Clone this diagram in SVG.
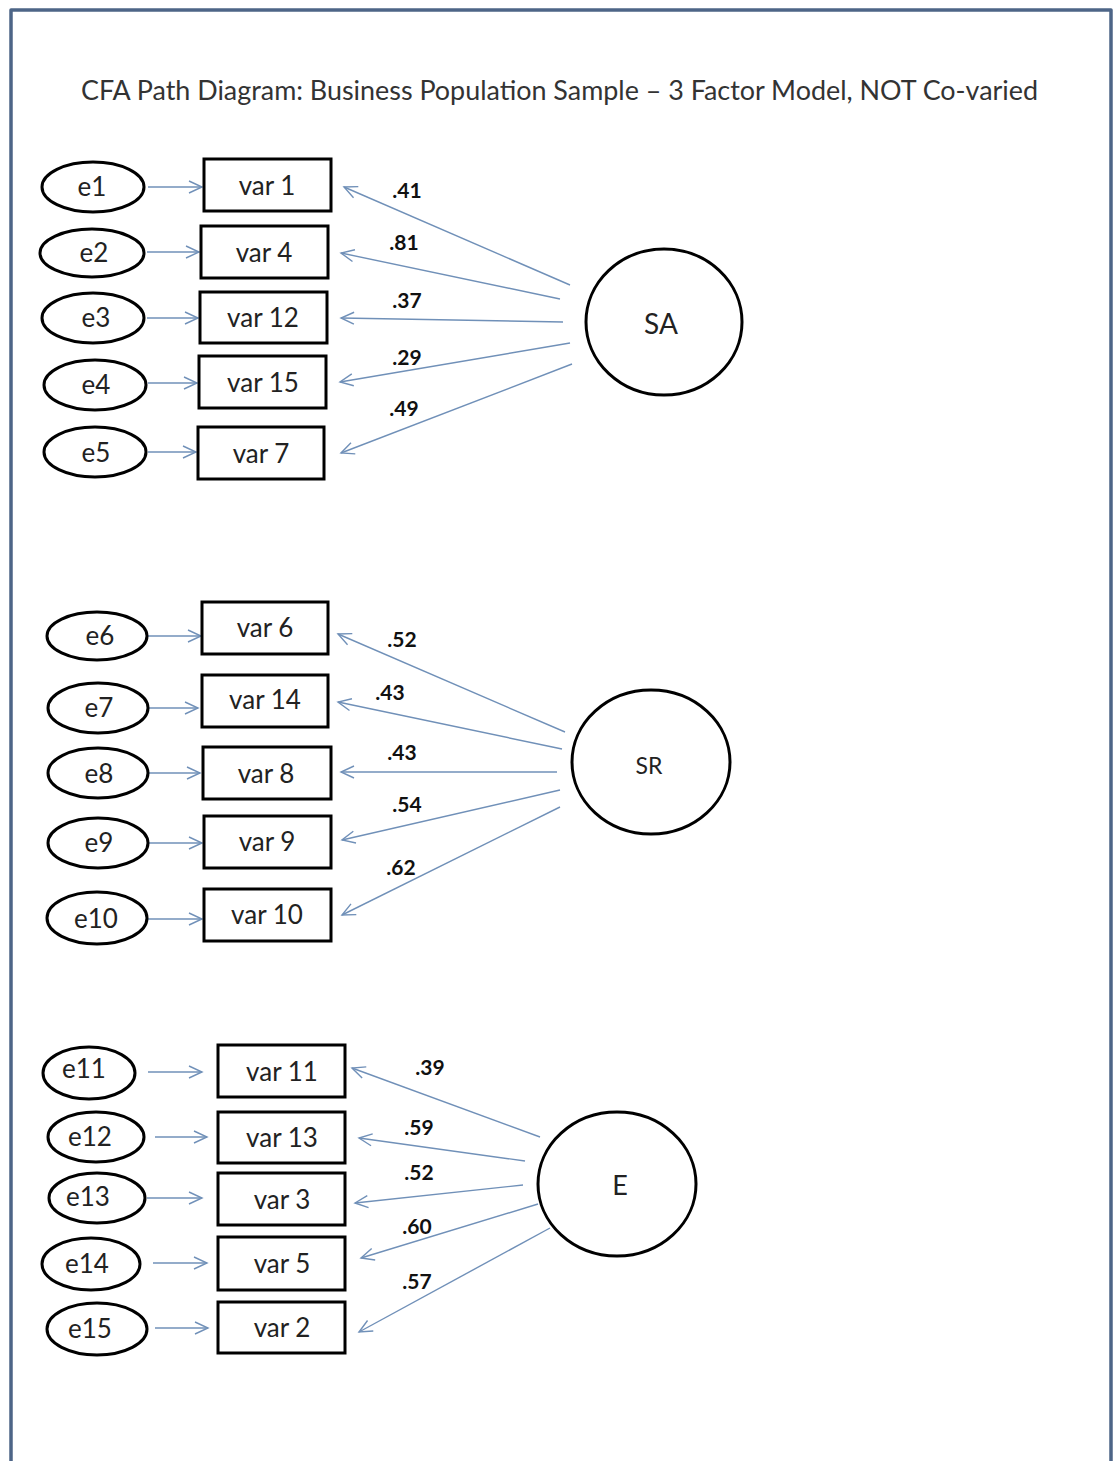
<svg xmlns="http://www.w3.org/2000/svg" width="1117" height="1461" viewBox="0 0 1117 1461">
<style>
  .frame{fill:none;stroke:#4d6587;stroke-width:3.5;stroke-linejoin:round}
  .box{fill:#fff;stroke:#000;stroke-width:3}
  .err{fill:#fff;stroke:#000;stroke-width:3}
  .lat{fill:#fff;stroke:#000;stroke-width:3}
  .t{font-family:Lato,"Liberation Sans",sans-serif;font-size:26px;fill:#222;text-anchor:middle}
  .lbl{font-family:Lato,"Liberation Sans",sans-serif;font-size:21px;font-weight:bold;fill:#111;text-anchor:middle}
  .title{font-family:Lato,"Liberation Sans",sans-serif;font-size:26px;fill:#333}
  .c line{stroke:#7090b8;stroke-width:1.4;marker-end:url(#ah)}
</style>
<defs>
  <marker id="ah" markerUnits="userSpaceOnUse" markerWidth="16" markerHeight="16" viewBox="-1 -8 16 16" refX="13" refY="0" orient="auto">
    <path d="M0,-6 L13,0 L0,6" fill="none" stroke="#7090b8" stroke-width="1.4"/>
  </marker>
</defs>
<rect x="0" y="0" width="1117" height="1461" fill="#fff"/>
<path class="frame" d="M11,1461 L11,10 L1111,10 L1111,1461"/>
<text class="title" x="81" y="100" textLength="957" lengthAdjust="spacingAndGlyphs">CFA Path Diagram: Business Population Sample – 3 Factor Model, NOT Co-varied</text>

<g id="connectors" class="c">
  <line x1="148" y1="187" x2="202" y2="187"/>
  <line x1="147" y1="252" x2="199" y2="252"/>
  <line x1="147" y1="318" x2="198" y2="318"/>
  <line x1="148" y1="383" x2="197" y2="383"/>
  <line x1="148" y1="452" x2="196" y2="452"/>
  <line x1="570" y1="285" x2="344" y2="187"/>
  <line x1="560" y1="299" x2="341" y2="253"/>
  <line x1="563" y1="322" x2="341" y2="318"/>
  <line x1="570" y1="343" x2="340" y2="382"/>
  <line x1="572" y1="364" x2="341" y2="453"/>

  <line x1="148" y1="636" x2="201" y2="636"/>
  <line x1="148" y1="708" x2="198" y2="708"/>
  <line x1="148" y1="773" x2="200" y2="773"/>
  <line x1="148" y1="843" x2="202" y2="843"/>
  <line x1="148" y1="919" x2="202" y2="919"/>
  <line x1="565" y1="732" x2="338" y2="634"/>
  <line x1="562" y1="749" x2="338" y2="702"/>
  <line x1="557" y1="772" x2="341" y2="772"/>
  <line x1="560" y1="790" x2="342" y2="840"/>
  <line x1="560" y1="807" x2="342" y2="915"/>

  <line x1="148" y1="1072" x2="202" y2="1072"/>
  <line x1="155" y1="1137" x2="207" y2="1137"/>
  <line x1="147" y1="1198" x2="202" y2="1198"/>
  <line x1="153" y1="1263" x2="207" y2="1263"/>
  <line x1="155" y1="1328" x2="208" y2="1328"/>
  <line x1="540" y1="1137" x2="352" y2="1068"/>
  <line x1="525" y1="1161" x2="359" y2="1138"/>
  <line x1="523" y1="1185" x2="355" y2="1203"/>
  <line x1="538" y1="1204" x2="361" y2="1258"/>
  <line x1="550" y1="1228" x2="359" y2="1332"/>
</g>

<g id="labels">
  <text class="lbl" x="407" y="198">.41</text>
  <text class="lbl" x="404" y="250">.81</text>
  <text class="lbl" x="407" y="308">.37</text>
  <text class="lbl" x="407" y="365">.29</text>
  <text class="lbl" x="404" y="416">.49</text>
  <text class="lbl" x="402" y="647">.52</text>
  <text class="lbl" x="390" y="700">.43</text>
  <text class="lbl" x="402" y="760">.43</text>
  <text class="lbl" x="407" y="812">.54</text>
  <text class="lbl" x="401" y="875">.62</text>
  <text class="lbl" x="430" y="1075">.39</text>
  <text class="lbl" x="419" y="1135">.59</text>
  <text class="lbl" x="419" y="1180">.52</text>
  <text class="lbl" x="417" y="1234">.60</text>
  <text class="lbl" x="417" y="1289">.57</text>
</g>

<g id="SA"><ellipse class="lat" cx="664" cy="322" rx="78" ry="73"/><text class="t" x="661" y="334" style="font-size:28px">SA</text></g>
<g id="SR"><ellipse class="lat" cx="651" cy="762" rx="79" ry="72"/><text class="t" x="649" y="774" style="font-size:23px">SR</text></g>
<g id="E"><ellipse class="lat" cx="617" cy="1184" rx="79" ry="72"/><text class="t" x="620" y="1195" style="font-size:27px">E</text></g>

<g id="e1"><ellipse class="err" cx="93" cy="187" rx="51" ry="25"/><text class="t" x="92" y="196">e1</text></g>
<g id="e2"><ellipse class="err" cx="92" cy="253" rx="52" ry="24"/><text class="t" x="94" y="262">e2</text></g>
<g id="e3"><ellipse class="err" cx="93" cy="318" rx="51" ry="25"/><text class="t" x="96" y="327">e3</text></g>
<g id="e4"><ellipse class="err" cx="95" cy="385" rx="51" ry="25"/><text class="t" x="96" y="394">e4</text></g>
<g id="e5"><ellipse class="err" cx="95" cy="452" rx="51" ry="25"/><text class="t" x="96" y="462">e5</text></g>

<g id="var1"><rect class="box" x="204" y="159" width="127" height="52"/><text class="t" x="267" y="195">var 1</text></g>
<g id="var4"><rect class="box" x="201" y="226" width="127" height="52"/><text class="t" x="264" y="262">var 4</text></g>
<g id="var12"><rect class="box" x="200" y="292" width="127" height="51"/><text class="t" x="263" y="327">var 12</text></g>
<g id="var15"><rect class="box" x="199" y="356" width="127" height="52"/><text class="t" x="263" y="392">var 15</text></g>
<g id="var7"><rect class="box" x="198" y="427" width="126" height="52"/><text class="t" x="261" y="463">var 7</text></g>

<g id="e6"><ellipse class="err" cx="97" cy="636" rx="50" ry="24"/><text class="t" x="100" y="645">e6</text></g>
<g id="e7"><ellipse class="err" cx="98" cy="708" rx="50" ry="25"/><text class="t" x="99" y="717">e7</text></g>
<g id="e8"><ellipse class="err" cx="98" cy="773" rx="50" ry="25"/><text class="t" x="99" y="783">e8</text></g>
<g id="e9"><ellipse class="err" cx="98" cy="843" rx="50" ry="25"/><text class="t" x="99" y="852">e9</text></g>
<g id="e10"><ellipse class="err" cx="97" cy="918" rx="50" ry="26"/><text class="t" x="96" y="928">e10</text></g>

<g id="var6"><rect class="box" x="202" y="602" width="126" height="52"/><text class="t" x="265" y="637">var 6</text></g>
<g id="var14"><rect class="box" x="202" y="675" width="126" height="52"/><text class="t" x="265" y="709">var 14</text></g>
<g id="var8"><rect class="box" x="203" y="747" width="128" height="52"/><text class="t" x="266" y="783">var 8</text></g>
<g id="var9"><rect class="box" x="204" y="816" width="127" height="52"/><text class="t" x="267" y="851">var 9</text></g>
<g id="var10"><rect class="box" x="204" y="889" width="127" height="52"/><text class="t" x="267" y="924">var 10</text></g>

<g id="e11"><ellipse class="err" cx="89" cy="1073" rx="46" ry="26"/><text class="t" x="84" y="1078">e11</text></g>
<g id="e12"><ellipse class="err" cx="96" cy="1137" rx="48" ry="25"/><text class="t" x="90" y="1146">e12</text></g>
<g id="e13"><ellipse class="err" cx="97" cy="1198" rx="48" ry="25"/><text class="t" x="88" y="1206">e13</text></g>
<g id="e14"><ellipse class="err" cx="91" cy="1264" rx="49" ry="26"/><text class="t" x="87" y="1273">e14</text></g>
<g id="e15"><ellipse class="err" cx="97" cy="1329" rx="50" ry="26"/><text class="t" x="90" y="1338">e15</text></g>

<g id="var11"><rect class="box" x="218" y="1045" width="127" height="52"/><text class="t" x="282" y="1081">var 11</text></g>
<g id="var13"><rect class="box" x="218" y="1112" width="127" height="51"/><text class="t" x="282" y="1147">var 13</text></g>
<g id="var3"><rect class="box" x="218" y="1173" width="127" height="52"/><text class="t" x="282" y="1209">var 3</text></g>
<g id="var5"><rect class="box" x="218" y="1237" width="127" height="53"/><text class="t" x="282" y="1273">var 5</text></g>
<g id="var2"><rect class="box" x="218" y="1302" width="127" height="51"/><text class="t" x="282" y="1337">var 2</text></g>
</svg>
